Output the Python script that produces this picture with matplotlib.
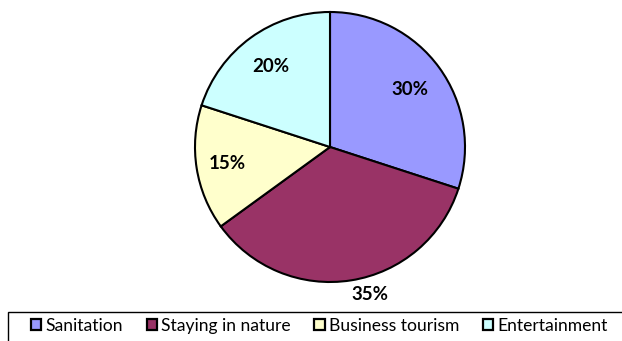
import numpy as np
import matplotlib
matplotlib.use("Agg")
import matplotlib.pyplot as plt
from matplotlib.patches import Patch, Rectangle

# Данные диаграммы
categories = ["Sanitation", "Staying in nature", "Business tourism", "Entertainment"]
shares = [30, 35, 15, 20]
colors = ["#9999FF", "#993366", "#FFFFCC", "#CCFFFF"]

W, H = 622, 341
fig = plt.figure(figsize=(W / 100, H / 100), dpi=100)

# Круг: центр (330, 147) px от верхнего левого угла, радиус ~135 px
cx, cy, r = 330, 147, 135
ax = fig.add_axes([(cx - r) / W, (H - cy - r) / H, 2 * r / W, 2 * r / H])
wedges, _ = ax.pie(shares, colors=colors, startangle=90, counterclock=False,
                   wedgeprops=dict(edgecolor="black", linewidth=1.5))
ax.set_xlim(-1, 1)
ax.set_ylim(-1, 1)
ax.set_aspect("equal")
ax.axis("off")

# Подписи процентов
label_dist = [0.73, 1.13, 0.77, 0.74]
label_shift = [0, 6, 0, 0]
for w, val, d, s in zip(wedges, shares, label_dist, label_shift):
    ang = np.deg2rad((w.theta1 + w.theta2) / 2 + s)
    ax.text(d * np.cos(ang), d * np.sin(ang), f"{val}%", ha="center", va="center",
            fontsize=13.5, fontweight="bold", family="Lato", clip_on=False)

# Рамка легенды
fig.patches.append(Rectangle((8, -10), W, H - 312 + 10, transform=None,
                             fill=False, edgecolor="black", linewidth=1.0))

handles = [Patch(facecolor=c, edgecolor="black", linewidth=1.6) for c in colors]
fig.legend(handles, categories, loc="center left", bbox_to_anchor=(31 / W, 15 / H),
           ncol=4, frameon=False, prop={"family": "Lato", "size": 12.6},
           handlelength=0.58, handleheight=0.58, handletextpad=0.25,
           columnspacing=1.35, borderaxespad=0, borderpad=0)

fig.savefig("out.png", dpi=100)
